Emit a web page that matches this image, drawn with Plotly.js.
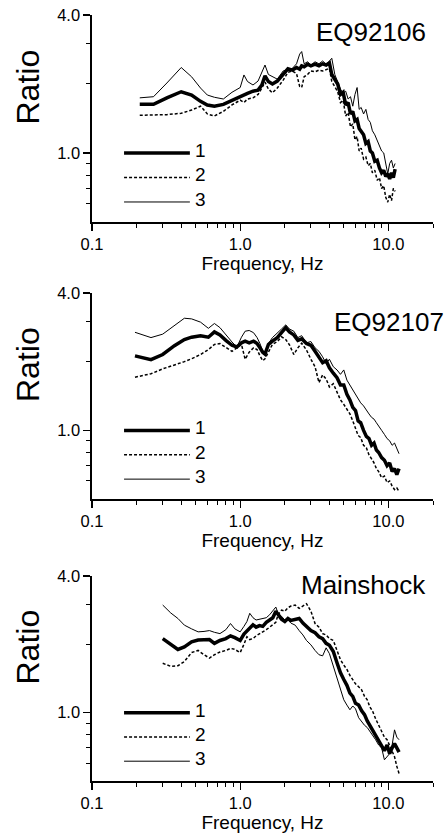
<!DOCTYPE html>
<html>
<head>
<meta charset="utf-8">
<script src="https://cdn.plot.ly/plotly-3.0.1.min.js"></script>
<style>html,body{margin:0;padding:0;background:#fff;}#chart{width:448px;height:839px;}</style>
</head>
<body>
<div id="chart"></div>
<script>
// ---------- DATA ----------
const panelTitles = ["EQ92106", "EQ92107", "Mainshock"];
const seriesNames = ["1", "2", "3"];
const xTickVals = [0.1, 1, 10];
const xTickText = ["0.1", "1.0", "10.0"];
const yTickVals = [1, 4];
const yTickText = ["1.0", "4.0"];
const xMinorVals = [0.2,0.3,0.4,0.5,0.6,0.7,0.8,0.9,2,3,4,5,6,7,8,9,20];
const yMinorVals = [0.6,0.7,0.8,0.9,2,3];

// Panel 1: EQ92106
const freqP1 = [0.21,0.26,0.32,0.40,0.47,0.54,0.60,0.67,0.77,0.88,1.0,1.06,1.12,1.22,1.32,1.40,1.47,1.55,1.65,1.78,1.95,2.1,2.25,2.4,2.52,2.6,2.7,2.85,3.0,3.2,3.4,3.6,3.8,4.0,4.15,4.35,4.55,4.75,4.95,5.15,5.35,5.55,5.75,5.95,6.15,6.35,6.55,6.8,7.05,7.3,7.55,7.8,8.1,8.4,8.7,9.0,9.3,9.6,9.9,10.2,10.5,10.8,11.1];
const p1s1 = [1.63,1.63,1.74,1.85,1.79,1.68,1.62,1.60,1.63,1.70,1.76,1.79,1.82,1.86,1.88,1.98,2.17,2.05,2.0,2.06,2.2,2.33,2.3,2.36,2.32,2.4,2.38,2.44,2.4,2.44,2.4,2.45,2.42,2.47,2.2,2.08,2.0,1.80,1.84,1.62,1.66,1.48,1.52,1.38,1.40,1.28,1.24,1.20,1.10,1.12,1.02,1.00,0.92,0.93,0.86,0.82,0.84,0.79,0.81,0.77,0.82,0.78,0.85];
const p1s2 = [1.46,1.46,1.47,1.49,1.54,1.60,1.48,1.45,1.52,1.62,1.70,1.66,1.72,1.74,1.80,1.92,2.04,1.90,1.83,1.92,2.08,2.25,2.28,2.22,1.95,1.93,2.15,2.2,2.28,2.26,2.3,2.28,2.32,2.34,2.05,1.95,1.85,1.66,1.70,1.45,1.50,1.30,1.34,1.14,1.18,1.02,1.05,0.94,0.96,0.88,0.90,0.82,0.84,0.76,0.78,0.70,0.72,0.64,0.61,0.66,0.62,0.70,0.68];
const p1s3 = [1.74,1.76,2.02,2.36,2.15,1.92,1.79,1.75,1.72,1.84,1.93,2.19,2.05,1.98,2.06,2.25,2.42,2.2,2.15,2.1,2.28,2.32,2.34,2.45,2.7,2.77,2.45,2.5,2.42,2.5,2.45,2.52,2.44,2.52,2.59,2.2,2.05,1.90,1.82,1.86,1.72,1.76,1.60,1.80,1.93,1.55,1.58,1.48,1.55,1.40,1.36,1.25,1.20,1.14,1.08,1.02,1.00,0.90,0.81,0.90,0.93,0.86,0.90];

// Panel 2: EQ92107
const freqP2 = [0.195,0.25,0.30,0.36,0.42,0.47,0.54,0.61,0.67,0.73,0.80,0.88,0.95,1.02,1.08,1.15,1.23,1.30,1.36,1.42,1.47,1.55,1.65,1.78,1.9,2.03,2.15,2.3,2.45,2.6,2.8,3.0,3.2,3.4,3.6,3.8,4.0,4.25,4.5,4.75,5.0,5.25,5.5,5.75,6.0,6.25,6.5,6.8,7.1,7.4,7.7,8.0,8.3,8.6,9.0,9.4,9.8,10.2,10.6,11.0,11.4,11.8];
const p2s1 = [2.12,2.04,2.15,2.35,2.50,2.56,2.60,2.56,2.70,2.62,2.48,2.36,2.32,2.42,2.46,2.42,2.46,2.40,2.30,2.20,2.16,2.38,2.46,2.55,2.68,2.82,2.70,2.62,2.48,2.52,2.40,2.36,2.22,2.10,1.98,2.02,1.88,1.78,1.70,1.58,1.58,1.44,1.36,1.26,1.22,1.10,1.08,1.00,0.94,0.92,0.86,0.88,0.82,0.80,0.76,0.74,0.70,0.72,0.66,0.68,0.64,0.68];
const p2s2 = [1.71,1.77,1.86,1.93,2.0,2.06,2.15,2.26,2.38,2.40,2.30,2.22,2.30,2.38,2.05,2.20,2.30,2.26,2.12,2.02,2.06,2.20,2.38,2.45,2.57,2.50,2.37,2.15,2.30,2.41,2.25,2.05,1.90,1.62,1.75,1.68,1.55,1.60,1.48,1.36,1.30,1.24,1.18,1.10,1.02,0.95,0.93,0.86,0.84,0.78,0.75,0.72,0.68,0.66,0.62,0.63,0.59,0.60,0.57,0.55,0.56,0.54];
const p2s3 = [2.69,2.55,2.64,2.88,3.10,3.08,2.98,2.80,2.94,2.82,2.62,2.44,2.32,2.56,2.72,2.74,2.68,2.55,2.40,2.22,2.20,2.40,2.55,2.66,2.78,2.90,2.78,2.72,2.55,2.60,2.42,2.45,2.30,2.22,2.10,1.96,2.05,1.90,1.84,1.76,1.84,1.66,1.58,1.50,1.44,1.38,1.32,1.28,1.22,1.18,1.14,1.12,1.08,1.04,1.00,0.96,0.92,0.90,0.86,0.88,0.84,0.79];

// Panel 3: Mainshock
const freqP3 = [0.30,0.34,0.38,0.42,0.47,0.52,0.57,0.62,0.67,0.73,0.80,0.86,0.92,1.0,1.06,1.11,1.16,1.22,1.28,1.35,1.42,1.5,1.58,1.66,1.74,1.8,1.9,2.0,2.1,2.2,2.35,2.5,2.65,2.8,3.0,3.2,3.4,3.6,3.8,4.0,4.25,4.5,4.75,5.0,5.25,5.5,5.75,6.0,6.3,6.6,6.9,7.2,7.5,7.8,8.2,8.6,9.0,9.4,9.8,10.2,10.6,11.0,11.4,11.8];
const p3s1 = [2.12,2.00,1.90,1.95,2.05,2.09,2.09,2.10,2.02,2.08,2.12,2.18,2.14,2.08,2.22,2.30,2.36,2.44,2.38,2.42,2.40,2.50,2.56,2.62,2.80,2.70,2.58,2.52,2.60,2.55,2.58,2.60,2.48,2.40,2.30,2.25,2.16,2.12,2.02,1.98,1.86,1.66,1.50,1.40,1.32,1.22,1.18,1.10,1.08,1.02,0.98,0.92,0.88,0.84,0.80,0.76,0.72,0.68,0.72,0.66,0.70,0.73,0.70,0.67];
const p3s2 = [1.65,1.60,1.61,1.68,1.84,1.88,1.80,1.74,1.80,1.85,1.88,1.92,1.90,1.84,2.0,2.16,2.10,2.12,2.18,2.22,2.27,2.32,2.38,2.44,2.50,2.70,2.83,2.80,2.90,2.95,2.98,2.88,2.96,3.02,2.80,2.47,2.38,2.23,2.20,2.12,2.08,1.90,1.71,1.62,1.55,1.46,1.40,1.34,1.30,1.26,1.18,1.14,1.06,1.02,0.94,0.88,0.84,0.78,0.76,0.72,0.68,0.64,0.58,0.54];
const p3s3 = [2.98,2.75,2.60,2.43,2.34,2.27,2.28,2.30,2.26,2.23,2.32,2.47,2.34,2.27,2.40,2.52,2.74,2.62,2.56,2.58,2.60,2.62,2.70,2.80,2.92,2.74,2.66,2.56,2.56,2.48,2.43,2.30,2.20,2.08,1.99,1.88,1.80,1.78,1.93,1.82,1.60,1.40,1.24,1.14,1.08,1.03,1.07,1.04,0.95,0.91,0.88,0.86,0.83,0.80,0.76,0.72,0.70,0.62,0.64,0.66,0.72,0.84,0.78,0.76];

const panelFreqs = [freqP1, freqP2, freqP3];
const panelSeries = [[p1s1, p1s2, p1s3], [p2s1, p2s2, p2s3], [p3s1, p3s2, p3s3]];

// ---------- STYLE ----------
const FONT = 'Arial, "Liberation Sans", sans-serif';
const lineStyles = [
  {color: '#000', width: 3.5, dash: 'solid'},
  {color: '#000', width: 1.5, dash: '3px,2px'},
  {color: '#000', width: 1, dash: 'solid'}
];
const domains = [[0.7298, 1.0], [0.3681, 0.6371], [0.0, 0.2676]];

const traces = [];
const layout = {
  width: 448, height: 839,
  margin: {l: 92, r: 15, t: 15, b: 58},
  paper_bgcolor: '#fff', plot_bgcolor: '#fff',
  showlegend: false,
  font: {family: FONT, color: '#000', size: 16},
  shapes: [], annotations: []
};

const titleRight = [428, 446, 428];       // px
const titleYOff = [17, 29, 9];             // px below panel top

for (let p = 0; p < 3; p++) {
  const sfx = p === 0 ? '' : String(p + 1);
  const xa = 'x' + sfx, ya = 'y' + sfx;
  for (let s = 0; s < 3; s++) {
    traces.push({
      type: 'scatter', mode: 'lines',
      x: panelFreqs[p], y: panelSeries[p][s],
      xaxis: xa, yaxis: ya, name: seriesNames[s],
      line: lineStyles[s], hoverinfo: 'skip'
    });
  }
  layout['xaxis' + sfx] = {
    type: 'log', range: [-1, Math.log10(20)], anchor: ya,
    showline: true, linewidth: 1.6, linecolor: '#000', mirror: false,
    showgrid: false, zeroline: false,
    tickmode: 'array', tickvals: xTickVals, ticktext: xTickText,
    ticks: 'outside', ticklen: 7, tickwidth: 1.2, tickcolor: '#000',
    tickfont: {family: FONT, size: 16.5, color: '#000'},
    minor: {tickmode: 'array', tickvals: xMinorVals, ticks: 'outside', ticklen: 4, tickwidth: 1, tickcolor: '#000', showgrid: false},
    title: {text: 'Frequency, Hz', font: {family: FONT, size: 19, color: '#000'}, standoff: 2},
    fixedrange: true
  };
  layout['yaxis' + sfx] = {
    type: 'log', range: [Math.log10(0.5), Math.log10(4)], domain: domains[p], anchor: xa,
    showline: true, linewidth: 1.6, linecolor: '#000', mirror: false,
    showgrid: false, zeroline: false,
    tickmode: 'array', tickvals: yTickVals, ticktext: yTickText,
    ticks: 'outside', ticklen: 7, tickwidth: 1.2, tickcolor: '#000',
    tickfont: {family: FONT, size: 16.5, color: '#000'},
    minor: {tickmode: 'array', tickvals: yMinorVals, ticks: 'outside', ticklen: 4, tickwidth: 1, tickcolor: '#000', showgrid: false},
    fixedrange: true
  };
  // Y title "Ratio"
  const topPx = 15 + (1 - domains[p][1]) * 766;
  const botPx = 15 + (1 - domains[p][0]) * 766;
  const centerPx = (topPx + botPx) / 2 - 31;
  layout.annotations.push({
    xref: 'paper', yref: 'paper',
    x: (28 - 92) / 341, y: (781 - centerPx) / 766,
    text: 'Ratio', textangle: -90, showarrow: false,
    xanchor: 'center', yanchor: 'middle',
    font: {family: FONT, size: 32, color: '#000'}
  });
  // panel title
  layout.annotations.push({
    xref: 'paper', yref: 'paper',
    x: (titleRight[p] - 92) / 341, y: (781 - (topPx + titleYOff[p])) / 766,
    text: panelTitles[p], showarrow: false,
    xanchor: 'right', yanchor: 'middle',
    font: {family: FONT, size: 26, color: '#000'}
  });
  // legend samples
  const legY = [0.333, 0.215, 0.0966];
  for (let s = 0; s < 3; s++) {
    layout.shapes.push({
      type: 'line', xref: xa + ' domain', yref: ya + ' domain',
      x0: 0.094, x1: 0.287, y0: legY[s], y1: legY[s],
      line: lineStyles[s]
    });
    layout.annotations.push({
      xref: xa + ' domain', yref: ya + ' domain',
      x: 0.297, y: legY[s] + 0.012, text: seriesNames[s], showarrow: false,
      xanchor: 'left', yanchor: 'middle',
      font: {family: FONT, size: 19, color: '#000'}
    });
  }
}

Plotly.newPlot('chart', traces, layout, {staticPlot: true, displayModeBar: false});
</script>
</body>
</html>
